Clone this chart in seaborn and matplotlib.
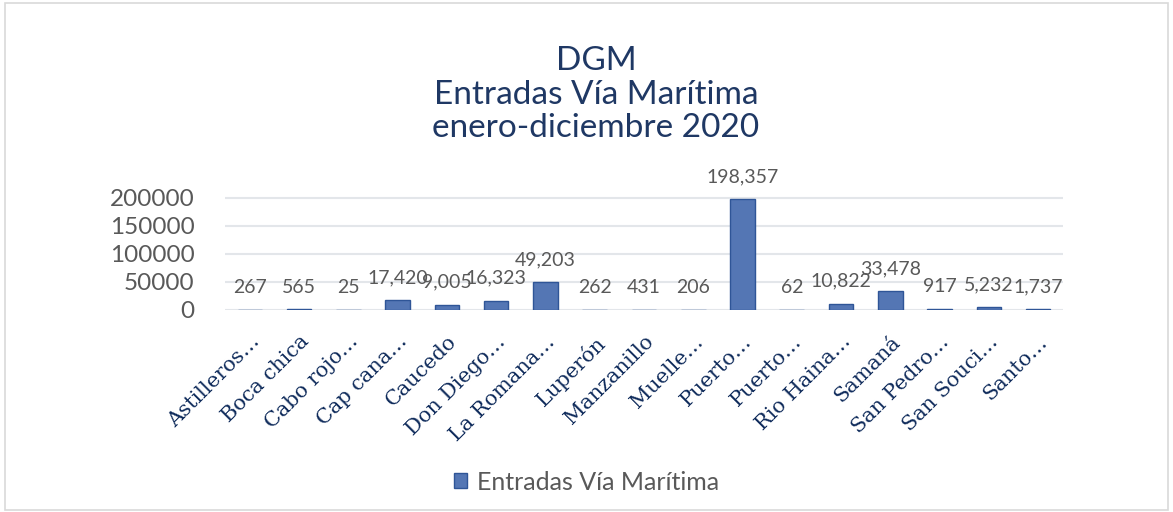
import matplotlib
matplotlib.use("Agg")
import matplotlib.pyplot as plt
import seaborn as sns
import pandas as pd
from matplotlib.patches import Rectangle

categories = ["Astilleros…", "Boca chica", "Cabo rojo…", "Cap cana…", "Caucedo",
              "Don Diego…", "La Romana…", "Luperón", "Manzanillo", "Muelle…",
              "Puerto…", "Puerto…", "Rio Haina…", "Samaná", "San Pedro…",
              "San Souci…", "Santo…"]
values = [267, 565, 25, 17420, 9005, 16323, 49203, 262, 431, 206,
          198357, 62, 10822, 33478, 917, 5232, 1737]
series_name = "Entradas Vía Marítima"
yticks = [0, 50000, 100000, 150000, 200000]

sns.set_theme(style="white")
plt.rcParams['font.family'] = ['Lato', 'DejaVu Sans']

df = pd.DataFrame({"pos": [f"{i:02d}" for i in range(len(categories))],
                   "val": values, "serie": series_name})

fig = plt.figure(figsize=(11.73, 5.12), dpi=100)
fig.patches.append(Rectangle((0.004, 0.004), 0.992, 0.99, transform=fig.transFigure,
                             fill=False, edgecolor="#d9d9d9", linewidth=1.2))
ax = fig.add_axes([0.192, 0.395, 0.714, 0.224])

sns.barplot(data=df, x="pos", y="val", hue="serie", palette=["#4472c4"],
            width=0.5, ax=ax, edgecolor="#2f5597", linewidth=1.0, legend=True)

ax.set_ylim(0, 205000)
ax.set_yticks(yticks)
ax.set_yticklabels([str(t) for t in yticks], color="#595959", fontsize=17.5)
ax.set_xticks(range(len(categories)))
ax.set_xticklabels(categories, rotation=45, ha="right", rotation_mode="anchor",
                   family="DejaVu Serif", color="#0f2b5b", fontsize=15)
ax.tick_params(axis="x", length=0, pad=16)
ax.tick_params(axis="y", length=0, pad=22)
ax.set_xlabel("")
ax.set_ylabel("")
ax.grid(axis="y", color="#e3e6ea", linewidth=1.5)
ax.set_axisbelow(True)
for s in ax.spines.values():
    s.set_visible(False)

for i, v in enumerate(values):
    ax.annotate(f"{v:,}", (i, v), xytext=(0, 10), textcoords="offset points",
                ha="center", va="bottom", fontsize=14, color="#595959",
                annotation_clip=False)

fig.text(0.508, 0.815, "DGM\nEntradas Vía Marítima\nenero-diciembre 2020",
         ha="center", va="center", fontsize=24, color="#1f3864", linespacing=1.15)

leg = ax.legend(loc="center", bbox_to_anchor=(0.5, 0.058), bbox_transform=fig.transFigure,
                frameon=False, prop={"size": 18},
                handlelength=0.55, handleheight=0.55, handletextpad=0.4)
for t in leg.get_texts():
    t.set_color("#595959")

fig.savefig("out.png", dpi=100, facecolor="white")
